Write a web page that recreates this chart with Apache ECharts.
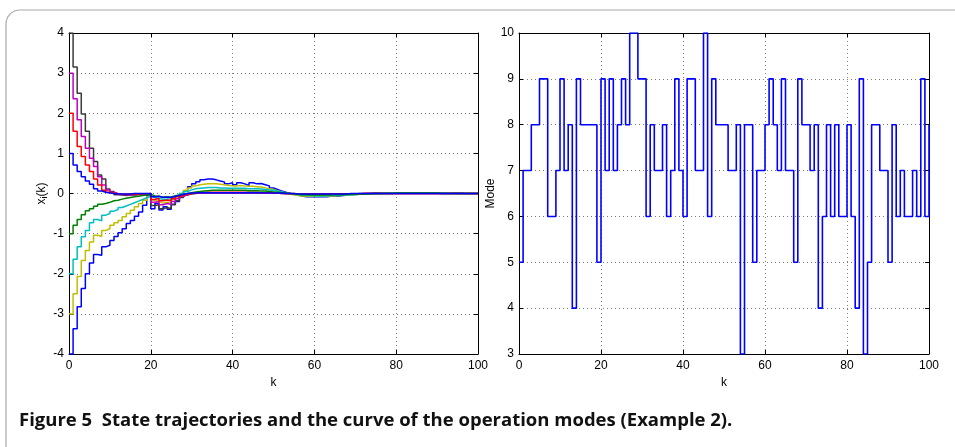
<!DOCTYPE html>
<html>
<head>
<meta charset="utf-8">
<script src="https://cdn.jsdelivr.net/npm/echarts@6/dist/echarts.min.js"></script>
<style>
html,body{margin:0;padding:0;background:#fff;}
#chart{width:955px;height:447px;}
</style>
</head>
<body>
<div id="chart"></div>
<script>
// ---- Left panel: state trajectories x_i(k), k = 0..100 ----
const x1 = [1,0.71,0.55,0.42,0.31,0.23,0.12,0.06,0.03,0.01,
 0,-0.01,-0.01,-0.01,-0.01,0,0,0,0,0,
 -0.08,-0.07,-0.1,-0.09,-0.1,-0.07,-0.05,-0.02,0,0.01,
 0.01,0.02,0.02,0.02,0.02,0.02,0.02,0.02,0.02,0.02,
 0.02,0.02,0.02,0.02,0.02,0.02,0.02,0.01,0.01,0.01,
 0.01,0.01,0,0,0,-0.01,-0.01,-0.01,-0.01,-0.01,
 -0.01,-0.01,-0.01,-0.01,-0.01,-0.01,-0.01,-0.01,0,0,
 0,0,0,0,0,0,0,0,0,0,
 0,0,0,0,0,0,0,0,0,0,
 0,0,0,0,0,0,0,0,0,0,0];
const x2 = [-1,-0.79,-0.65,-0.53,-0.43,-0.38,-0.32,-0.27,-0.25,-0.22,
 -0.18,-0.17,-0.14,-0.12,-0.1,-0.08,-0.07,-0.05,-0.04,-0.02,
 -0.06,-0.07,-0.09,-0.09,-0.08,-0.06,-0.04,-0.02,0,0.02,
 0.04,0.05,0.06,0.07,0.08,0.08,0.08,0.08,0.08,0.08,
 0.08,0.08,0.08,0.07,0.07,0.07,0.06,0.06,0.05,0.04,
 0.03,0.02,0.01,0,-0.01,-0.02,-0.03,-0.03,-0.04,-0.04,
 -0.04,-0.04,-0.04,-0.04,-0.03,-0.03,-0.03,-0.02,-0.02,-0.02,
 -0.01,-0.01,-0.01,0,0,0,0,0,0,0.01,
 0.01,0.01,0.01,0.01,0.01,0.01,0.01,0.01,0.01,0.01,
 0,0,0,0,0,0,0,0,0,0,0];
const x3 = [2,1.55,1.17,0.92,0.71,0.55,0.36,0.21,0.08,0.03,
 0.01,-0.01,-0.02,-0.02,-0.02,-0.02,-0.01,-0.01,-0.01,0,
 -0.15,-0.12,-0.18,-0.16,-0.18,-0.13,-0.08,-0.04,-0.02,0,
 0.01,0.02,0.03,0.03,0.03,0.03,0.03,0.03,0.03,0.03,
 0.03,0.03,0.03,0.03,0.03,0.03,0.02,0.02,0.02,0.02,
 0.01,0.01,0,0,-0.01,-0.01,-0.02,-0.02,-0.02,-0.02,
 -0.02,-0.02,-0.02,-0.02,-0.02,-0.01,-0.01,-0.01,-0.01,-0.01,
 -0.01,0,0,0,0,0,0,0,0,0,
 0,0,0,0,0,0,0,0,0,0,
 0,0,0,0,0,0,0,0,0,0,0];
const x4 = [-2,-1.64,-1.33,-1.08,-0.92,-0.73,-0.65,-0.68,-0.54,-0.5,
 -0.44,-0.4,-0.35,-0.31,-0.27,-0.23,-0.19,-0.15,-0.11,-0.07,
 -0.1,-0.12,-0.15,-0.14,-0.14,-0.1,-0.05,0,0.05,0.09,
 0.12,0.13,0.14,0.15,0.15,0.15,0.14,0.14,0.13,0.13,
 0.13,0.13,0.13,0.12,0.12,0.12,0.11,0.1,0.09,0.08,
 0.06,0.04,0.02,0,-0.01,-0.03,-0.04,-0.05,-0.05,-0.06,
 -0.06,-0.06,-0.06,-0.05,-0.05,-0.05,-0.04,-0.04,-0.03,-0.03,
 -0.02,-0.02,-0.01,-0.01,0,0,0,0.01,0.01,0.01,
 0.01,0.01,0.01,0.01,0.01,0.01,0.01,0.01,0.01,0.01,
 0.01,0.01,0,0,0,0,0,0,0,0,0];
const x5 = [3,2.36,1.84,1.42,1.13,0.88,0.67,0.42,0.21,0.09,
 0.03,0,-0.02,-0.03,-0.03,-0.03,-0.02,-0.02,-0.01,0,
 -0.22,-0.2,-0.28,-0.25,-0.27,-0.2,-0.13,-0.07,-0.03,0,
 0.01,0.01,0.02,0.02,0.02,0.02,0.02,0.02,0.02,0.02,
 0.02,0.02,0.02,0.02,0.02,0.02,0.02,0.01,0.01,0.01,
 0.01,0,0,0,-0.01,-0.01,-0.01,-0.01,-0.01,-0.01,
 -0.01,-0.01,-0.01,-0.01,-0.01,-0.01,-0.01,-0.01,-0.01,-0.01,
 -0.01,0,0,0,0,0,0,0,0,0,
 0,0,0,0,0,0,0,0,0,0,
 0,0,0,0,0,0,0,0,0,0,0];
const x6 = [-3,-2.5,-2.07,-1.67,-1.42,-1.21,-1.04,-1.07,-0.92,-0.88,
 -0.79,-0.73,-0.67,-0.58,-0.5,-0.42,-0.33,-0.25,-0.17,-0.08,
 -0.16,-0.2,-0.24,-0.22,-0.22,-0.15,-0.08,0,0.08,0.14,
 0.19,0.22,0.23,0.24,0.24,0.24,0.23,0.22,0.2,0.19,
 0.19,0.2,0.19,0.18,0.18,0.17,0.16,0.14,0.12,0.1,
 0.07,0.04,0.01,-0.01,-0.03,-0.05,-0.06,-0.07,-0.07,-0.07,
 -0.07,-0.07,-0.07,-0.06,-0.06,-0.05,-0.05,-0.04,-0.04,-0.03,
 -0.02,-0.02,-0.01,-0.01,0,0,0.01,0.01,0.01,0.01,
 0.02,0.02,0.02,0.02,0.02,0.02,0.02,0.02,0.01,0.01,
 0.01,0.01,0.01,0,0,0,0,0,0,0,0];
const x7 = [4,3.15,2.5,1.98,1.55,1.13,0.8,0.46,0.36,0.11,
 0.05,-0.03,-0.04,-0.05,-0.04,-0.04,-0.03,-0.02,-0.02,-0.01,
 -0.3,-0.28,-0.38,-0.35,-0.38,-0.28,-0.18,-0.1,-0.04,-0.01,
 0,0.01,0.01,0.01,0.01,0.01,0.01,0.01,0.01,0.01,
 0.01,0.01,0.01,0.01,0.01,0.01,0.01,0.01,0.01,0.01,
 0.01,0,0,0,0,-0.01,-0.01,-0.01,-0.01,-0.01,
 -0.01,-0.01,-0.01,-0.01,-0.01,-0.01,-0.01,-0.01,-0.01,-0.01,
 0,0,0,0,0,0,0,0,0,0,
 0,0,0,0,0,0,0,0,0,0,
 0,0,0,0,0,0,0,0,0,0,0];
const x8 = [-4,-3.37,-2.82,-2.37,-2.0,-1.73,-1.52,-1.54,-1.33,-1.29,
 -1.17,-1.07,-0.98,-0.88,-0.75,-0.67,-0.57,-0.46,-0.29,-0.04,
 -0.38,-0.25,-0.41,-0.33,-0.39,-0.27,-0.2,-0.08,0.07,0.17,
 0.24,0.29,0.34,0.36,0.36,0.34,0.31,0.29,0.24,0.27,
 0.22,0.27,0.24,0.2,0.27,0.24,0.25,0.22,0.19,0.14,
 0.1,0.06,0.03,0,-0.02,-0.04,-0.06,-0.08,-0.08,-0.08,
 -0.08,-0.08,-0.08,-0.07,-0.07,-0.06,-0.05,-0.04,-0.03,-0.02,
 -0.02,-0.01,0,0,0.01,0.01,0.015,0.015,0.02,0.02,
 0.02,0.02,0.02,0.02,0.02,0.02,0.02,0.02,0.02,0.02,
 0.02,0.02,0.01,0.01,0.01,0.01,0,0,0,0,0];
const stateSeries = [x1, x2, x3, x4, x5, x6, x7, x8];
const stateColors = ['#0000ff','#008000','#ff0000','#00bfbf','#bf00bf','#bfbf00','#3a3a3a','#0000ff'];

// ---- Right panel: operation mode, k = 0..100 ----
const modes = [5,7,7,8,8,9,9,6,6,7,
 9,7,8,4,9,8,8,8,8,5,
 9,7,9,7,8,9,8,10,10,9,
 9,6,8,7,7,8,6,7,9,7,
 6,9,9,7,7,10,6,9,8,8,
 8,7,7,8,3,8,8,5,7,7,
 8,9,8,7,9,7,7,5,9,8,
 8,7,8,4,6,8,6,8,6,6,
 8,6,4,9,3,5,8,8,7,7,
 5,8,6,7,6,6,7,6,9,6,8];

const xTicks = [0,20,40,60,80,100];
const leftYTicks = [-4,-3,-2,-1,0,1,2,3,4];
const rightYTicks = [3,4,5,6,7,8,9,10];

const caption = 'Figure 5  State trajectories and the curve of the operation modes (Example 2).';

const chart = echarts.init(document.getElementById('chart'), null, {renderer:'canvas'});
const font = '"Liberation Sans", Arial, Helvetica, sans-serif';
const gridLine = {show:true, lineStyle:{color:'#7a7a7a', type:[1,3], width:1}};
function xAx(gi, show){
  return {type:'value', gridIndex:gi, min:xTicks[0], max:xTicks[xTicks.length-1], interval:20,
    position: show ? 'bottom':'top',
    name: show ? 'k' : '', nameLocation:'middle', nameGap:21,
    nameTextStyle:{fontFamily:font, fontSize:12, color:'#000'},
    axisLine:{show:true, onZero:false, lineStyle:{color:'#000', width:1}},
    axisTick:{show:true, inside:true, length:4, lineStyle:{color:'#000'}},
    axisLabel:{show:show, fontFamily:font, fontSize:12, color:'#000', margin:6},
    splitLine: show ? gridLine : {show:false}};
}
function yAx(gi, show, ticks, name){
  return {type:'value', gridIndex:gi, min:ticks[0], max:ticks[ticks.length-1], interval:1,
    position: show ? 'left':'right',
    name: show ? name : '', nameLocation:'middle', nameGap: gi===0 ? 16 : 17,
    nameTextStyle:{fontFamily:font, fontSize:12, color:'#000',
      rich:{sub:{fontFamily:font, fontSize:9, color:'#000', verticalAlign:'bottom', padding:[6,0,0,0]}}},
    axisLine:{show:true, onZero:false, lineStyle:{color:'#000', width:1}},
    axisTick:{show:true, inside:true, length:4, lineStyle:{color:'#000'}},
    axisLabel:{show:show, fontFamily:font, fontSize:12, color:'#000', margin:5},
    splitLine: show ? gridLine : {show:false}};
}

const series = stateSeries.map((arr, i) => ({
  type:'line', xAxisIndex:0, yAxisIndex:0, step:'end', showSymbol:false, symbol:'none',
  data: arr.map((v, k) => [k, v]),
  lineStyle:{color:stateColors[i], width:1.5}, z: 10 - i, animation:false
}));
series.push({
  type:'line', xAxisIndex:2, yAxisIndex:2, step:'end', showSymbol:false, symbol:'none',
  data: modes.map((v, k) => [k, v]),
  lineStyle:{color:'#0000ff', width:1.6}, animation:false
});

chart.setOption({
  backgroundColor:'#fff',
  animation:false,
  title:{text:caption, left:14, top:406,
    textStyle:{fontFamily:'"Open Sans", "Noto Sans", sans-serif', fontWeight:'bold', fontSize:18.5, color:'#111'}},
  graphic:[{type:'rect', silent:true, shape:{x:6, y:10, width:1000, height:520, r:14},
    style:{fill:'none', stroke:'#a8a8a8', lineWidth:1.2}}],
  grid:[
    {left:69, top:33, width:409, height:321},
    {left:519, top:33, width:410, height:321}
  ],
  xAxis:[xAx(0,true), xAx(0,false), xAx(1,true), xAx(1,false)],
  yAxis:[yAx(0,true,leftYTicks,'x{sub|i}(k)'), yAx(0,false,leftYTicks,''),
         yAx(1,true,rightYTicks,'Mode'), yAx(1,false,rightYTicks,'')],
  series: series
});
</script>
</body>
</html>
